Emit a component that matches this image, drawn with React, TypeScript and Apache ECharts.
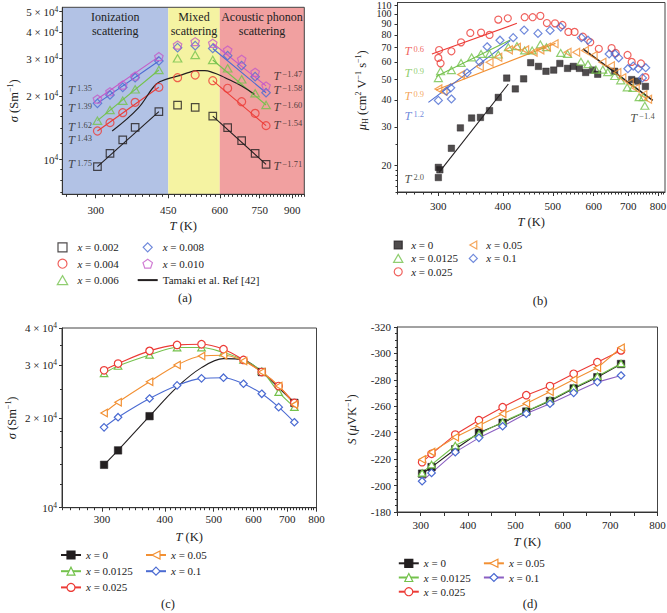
import React, { useEffect, useRef } from 'react';
import * as echarts from 'echarts';

const FONT = '"Liberation Serif", "DejaVu Serif", serif';
const INK = '#231f20';
const RED = '#ec3b36';
const GREEN = '#74c24c';
const BLUE = '#4b6bd2';
const MAGENTA = '#c45ac8';
const ORANGE = '#f29033';
const PURPLE = '#8b5fc2';
const BG_BLUE = '#b2c2e5';
const BG_YELLOW = '#f5f3a2';
const BG_RED = '#f1a0a0';

const SQUARE = 'path://M0,0L10,0L10,10L0,10Z';
const TRI_UP = 'path://M5,0L10,8.66L0,8.66Z';
const TRI_LEFT = 'path://M0,5L8.66,0L8.66,10Z';
const DIAMOND = 'path://M5,0L10,5L5,10L0,5Z';
const PENTAGON = 'path://M5,0L9.76,3.45L7.94,9.05L2.06,9.05L0.24,3.45Z';

// ---------- Panel (a): sigma vs T, log-log ----------
const aTemps = [303, 325, 349, 374, 427, 474, 523, 577, 627, 678, 731, 777];
const aSigma002 = [9270, 10720, 12390, 14210, 16860, 18110, 17660, 16070, 14160, 12300, 10720, 9510];
const aSigma004 = [13660, 14960, 16670, 18650, 21960, 24390, 25110, 23600, 21730, 18790, 16550, 14480];
const aSigma006 = [15280, 17160, 18980, 21490, 26510, 30100, 31200, 29550, 27000, 23950, 20580, 18120];
const aSigma008 = [18450, 20200, 21960, 24390, 29230, 33790, 34540, 33500, 30980, 27800, 24660, 20710];
const aSigma010 = [19340, 20940, 22520, 24840, 30650, 34780, 36070, 35450, 32950, 29800, 25850, 22290];
const aTamakiT = [329, 380, 421, 450, 476, 503, 527, 552, 578, 606, 629, 678, 728];
const aTamakiS = [13660, 17470, 22770, 24130, 24850, 25760, 26320, 26320, 25760, 24850, 23950, 22280, 20350];
const aXMin = 249;
const aXMax = 962;
const aYMin = 6865;
const aYMax = 52400;
const aXTickLabels = [300, 450, 600, 750, 900];
const aYTickLabels = [10000, 20000, 30000, 40000, 50000];
const aYMinorTicks = [7000, 8000, 9000, 12000, 14000, 16000, 18000, 25000, 35000, 45000];
const aExpLeft = ['1.35', '1.39', '1.62', '1.43', '1.75'];
const aExpLeftAt = [21340, 17540, 14270, 12390, 9540];
const aExpRight = ['\u22121.47', '\u22121.58', '\u22121.60', '\u22121.54', '\u22121.71'];
const aExpRightAt = [24840, 21340, 17740, 14580, 9340];

// ---------- Panel (b): Hall mobility ----------
const bT0 = [300, 300, 302, 318, 331, 348, 362, 377, 392, 407, 423, 439, 453, 469, 485, 502, 516, 534, 548, 563, 579, 597, 611, 659, 711, 731, 756];
const bMu0 = [17.5, 19.5, 19.0, 23.9, 29.7, 33.0, 33.2, 35.7, 41.1, 50.5, 45.0, 50.1, 59.5, 57.2, 54.3, 55.0, 59.0, 56.0, 57.2, 56.0, 53.6, 55.0, 52.6, 54.3, 49.7, 48.9, 46.2];
const bT1 = [300, 303, 318, 332, 348, 363, 377, 392, 410, 426, 441, 456, 473, 486, 518, 534, 567, 585, 606, 625, 639, 659, 677, 697, 715, 735, 749, 754];
const bMu1 = [50.5, 54.3, 55.0, 59.3, 63.0, 65.3, 65.3, 64.9, 70.2, 71.0, 67.8, 67.8, 72.3, 70.2, 66.0, 65.3, 60.1, 58.6, 55.3, 55.3, 53.8, 51.6, 49.3, 45.7, 45.5, 41.2, 41.2, 37.6];
const bT2 = [300, 301, 303, 318, 332, 346, 363, 377, 392, 409, 441, 457, 473, 487, 505, 522, 536, 551, 572, 591, 614, 650, 662, 698, 711, 741, 756];
const bMu2 = [62.6, 68.1, 59.1, 67.2, 73.9, 81.7, 82.0, 80.0, 94.2, 95.5, 96.6, 96.6, 98.0, 90.8, 90.5, 88.9, 82.6, 82.6, 78.5, 74.0, 69.0, 69.5, 66.0, 64.6, 60.0, 59.0, 51.0];
const bT3 = [300, 307, 332, 361, 377, 392, 411, 426, 442, 459, 473, 487, 504, 534, 555, 577, 600, 624, 648, 667, 682, 705, 724, 749, 765];
const bMu3 = [45.0, 43.9, 52.4, 57.1, 59.8, 63.0, 68.2, 70.2, 68.2, 66.5, 68.2, 70.2, 72.8, 66.5, 66.5, 67.8, 64.2, 59.8, 57.6, 53.6, 50.7, 48.0, 45.3, 42.3, 40.3];
const bT4 = [300, 311, 317, 318, 341, 361, 373, 395, 419, 440, 468, 494, 518, 568, 585, 643, 660, 671, 699, 716, 732, 746, 757];
const bMu4 = [39.8, 43.9, 45.5, 40.4, 53.4, 60.0, 70.5, 75.6, 77.7, 84.2, 81.3, 83.9, 87.0, 77.7, 75.6, 65.3, 65.3, 62.6, 55.8, 57.4, 55.8, 50.6, 56.4];
const bFitRedT = [291.5, 426];
const bFitRedMu = [65.3, 90.5];
const bFitGreenT = [297, 413.5];
const bFitGreenMu = [51.3, 75.8];
const bFitOrangeT = [297, 506];
const bFitOrangeMu = [44.5, 73.1];
const bFitBlueT = [287, 413.5];
const bFitBlueMu = [39.0, 75.3];
const bFitBlackLoT = [301, 410];
const bFitBlackLoMu = [18.5, 47.4];
const bFitBlackHiT = [572, 781];
const bFitBlackHiMu = [68.9, 39.8];
const bXMin = 250;
const bXMax = 825;
const bYMin = 15;
const bYMax = 113;
const bXTickLabels = [300, 400, 500, 600, 700, 800];
const bYTickLabels = [20, 30, 40, 50, 60, 70, 80, 90, 100, 110];
const bYLabelsEven = [20, 40, 60, 80, 100];
const bYLabelsOdd = [30, 50, 70, 90, 110];
const bYMinorTicks = [15, 16, 17, 18, 19, 25];

// ---------- Panel (c): sigma vs T ----------
const cT = [303, 323, 373, 423, 473, 523, 573, 623, 673, 723];
const cSigma0 = [13920, 15560, 20260, 25360, 29460, 31580, 31260, 28480, 25230, 22450];
const cSigma0125 = [28190, 29840, 32500, 34400, 34400, 33100, 31260, 28690, 24390, 21720];
const cSigma025 = [28860, 30400, 33530, 35110, 35290, 33950, 31260, 28480, 25560, 22450];
const cSigma05 = [20770, 22570, 26430, 30070, 32240, 32400, 31000, 28480, 25560, 22150];
const cSigma1 = [18590, 20100, 23220, 25690, 27120, 27260, 26020, 24080, 21720, 19330];
const cBlackMarkerShown = [true, true, true, false, false, false, false, true, false, true];
const cXTickLabels = [300, 400, 500, 600, 700, 800];
const cYTickLabels = [10000, 20000, 30000, 40000];
const cYMinorTicks = [12000, 14000, 16000, 18000, 25000, 35000];

// ---------- Panel (d): Seebeck ----------
const dT = [303, 323, 373, 423, 473, 523, 573, 623, 673, 723];
const dS0 = [-209.0, -214.0, -227.5, -240.0, -247.5, -256.0, -264.0, -273.5, -282.0, -292.0];
const dS0125 = [-209.6, -215.9, -230.3, -239.1, -248.2, -256.3, -264.6, -274.0, -282.8, -292.4];
const dS025 = [-217.7, -224.0, -238.6, -249.5, -259.3, -268.4, -275.3, -284.6, -293.4, -302.3];
const dS05 = [-219.7, -225.3, -236.6, -245.5, -254.3, -262.1, -271.0, -280.3, -289.1, -304.3];
const dS1 = [-203.3, -209.6, -225.3, -236.1, -244.9, -254.5, -261.9, -270.2, -278.3, -283.3];

const pts = (xs: number[], ys: number[]) => xs.map((x, i) => [x, ys[i]]);
const stepTicks = (from: number, to: number, step: number, skip: number[]) => {
  const out: number[] = [];
  for (let v = from; v <= to; v += step) if (!skip.includes(v)) out.push(v);
  return out;
};

const tickLine = { color: '#333', width: 1 };
const supRich = {
  i: { fontFamily: FONT, fontStyle: 'italic', fontSize: 11, lineHeight: 13, color: '#222' },
  s: { fontFamily: FONT, fontSize: 7.5, lineHeight: 8, verticalAlign: 'top', color: '#222' },
};
const labelBase = { fontFamily: FONT, fontSize: 11, color: '#222', lineHeight: 13, rich: supRich, hideOverlap: false, showMinLabel: true, showMaxLabel: true };
const nameStyle = {
  fontFamily: FONT, fontSize: 12.5, color: '#222', lineHeight: 15,
  rich: {
    i: { fontFamily: FONT, fontStyle: 'italic', fontSize: 12.5, lineHeight: 15, color: '#222' },
    s: { fontFamily: FONT, fontSize: 8, lineHeight: 8, verticalAlign: 'top', color: '#222' },
    sub: { fontFamily: FONT, fontSize: 8, lineHeight: 8, verticalAlign: 'bottom', color: '#222' },
  },
};
const sciFmt = (v: number) => {
  const k = Math.round(v / 10000);
  return k === 1 ? '10{s|4}' : k + ' \u00d7 10{s|4}';
};

function logAxis(grid: number, min: number, max: number, majors: number[], fmt: any, extra: any) {
  return {
    type: 'log', logBase: 10, gridIndex: grid, min, max, z: 5,
    axisLine: { show: true, onZero: false, lineStyle: tickLine },
    axisTick: { show: true, customValues: majors, length: 4, inside: false, lineStyle: tickLine },
    minorTick: { show: false },
    splitLine: { show: false },
    axisLabel: { show: true, customValues: majors, formatter: fmt, ...labelBase, margin: 7 },
    ...extra,
  };
}
function minorAxis(grid: number, min: number, max: number, values: number[], len: number, position: string, label: any = { show: false }) {
  return {
    type: 'log', logBase: 10, gridIndex: grid, min, max, position, z: 5,
    axisLine: { show: false },
    axisTick: { show: true, customValues: values, length: len, inside: false, lineStyle: tickLine },
    axisLabel: label,
    minorTick: { show: false },
    splitLine: { show: false },
  };
}

const hollow = (color: string) => ({ color: 'rgba(0,0,0,0)', borderColor: color, borderWidth: 1.2 });
const white = (color: string) => ({ color: '#ffffff', borderColor: color, borderWidth: 1.2 });

function scatter(name: string, axis: number, data: number[][], symbol: string, itemStyle: any, size: number, extra: any = {}) {
  return {
    type: 'scatter', name, xAxisIndex: axis, yAxisIndex: axis, symbol, symbolSize: size,
    symbolKeepAspect: true, itemStyle, data, z: 4, ...extra,
  };
}
function fitLine(name: string, axis: number, data: number[][], color: string, width = 1.1, smooth: any = false) {
  return {
    type: 'line', name, xAxisIndex: axis, yAxisIndex: axis, data, symbol: 'none', smooth,
    lineStyle: { color, width }, itemStyle: { color: 'rgba(0,0,0,0)', borderColor: 'rgba(0,0,0,0)', borderWidth: 0 },
    z: 3, silent: true,
  };
}
function dataLine(name: string, axis: number, data: any[], symbol: string, color: string, itemStyle: any, smooth: any, lineColor?: string) {
  return {
    type: 'line', name, xAxisIndex: axis, yAxisIndex: axis, data, symbol, symbolSize: 7.5, symbolKeepAspect: true,
    smooth, lineStyle: { color: lineColor || color, width: 1.1 }, itemStyle, z: 4,
  };
}
const annRich = {
  t: { fontFamily: FONT, fontStyle: 'italic', fontSize: 12.5, lineHeight: 12 },
  s: { fontFamily: FONT, fontSize: 8.5, lineHeight: 9, verticalAlign: 'top', padding: [0, 0, 0, 2] },
};
function annotations(axis: number, items: any[]) {
  return {
    type: 'scatter', name: 'annotation', xAxisIndex: axis, yAxisIndex: axis, symbolSize: 1, silent: true, z: 6,
    itemStyle: { color: 'rgba(0,0,0,0)' },
    label: {
      show: true, position: 'right', distance: 0, fontFamily: FONT, color: INK, rich: annRich, lineHeight: 12,
      formatter: (p: any) => '{t|T}{s|' + p.data.exp + '}',
    },
    labelLayout: { hideOverlap: false },
    data: items.map((it) => ({ value: [it.x, it.y], exp: it.exp, label: { color: it.color } })),
  };
}

const legendFmt = (name: string) => {
  const t = name.slice(2);
  return t.startsWith('x') ? '{i|x}' + t.slice(1) : t;
};
function legend(left: number, top: number, data: string[], itemWidth: number, itemHeight: number, gap: number) {
  return {
    orient: 'vertical', left, top, padding: 0, itemGap: gap, itemWidth, itemHeight, selectedMode: false,
    formatter: legendFmt, data,
    itemStyle: { borderWidth: 1.2 },
    textStyle: { fontFamily: FONT, fontSize: 11, color: '#222', lineHeight: 13, rich: { i: { fontFamily: FONT, fontStyle: 'italic', fontSize: 11, lineHeight: 13 } } },
  };
}

function buildOption() {
  const aXMinor = stepTicks(255, 960, 15, aXTickLabels);
  const bXMinor = stepTicks(250, 820, 10, bXTickLabels);
  const cXMinor = stepTicks(250, 800, 10, cXTickLabels);
  const grid = (left: number, top: number, width: number, height: number) => ({
    left, top, width, height, show: true, borderColor: '#444', borderWidth: 1, backgroundColor: 'rgba(0,0,0,0)',
    containLabel: false, outerBoundsMode: 'none', z: 3,
  });
  const intFmt = (v: number) => String(Math.round(v));
  const bYLabelStyle = { ...labelBase, fontSize: 10, lineHeight: 8, margin: 6, formatter: intFmt };

  const xAxis: any[] = [
    logAxis(0, aXMin, aXMax, aXTickLabels, intFmt, {
      position: 'bottom', name: '{i|T} (K)', nameLocation: 'middle', nameGap: 24, nameTextStyle: nameStyle,
      axisLabel: { show: true, customValues: aXTickLabels, formatter: intFmt, ...labelBase, margin: 9 },
    }),
    minorAxis(0, aXMin, aXMax, aXMinor, 2.5, 'bottom'),
    logAxis(1, bXMin, bXMax, bXTickLabels, intFmt, {
      position: 'bottom', name: '{i|T} (K)', nameLocation: 'middle', nameGap: 22, nameTextStyle: nameStyle,
    }),
    minorAxis(1, bXMin, bXMax, bXMinor, 2.5, 'bottom'),
    logAxis(2, 250, 800, cXTickLabels, intFmt, {
      position: 'bottom', name: '{i|T} (K)', nameLocation: 'middle', nameGap: 22, nameTextStyle: nameStyle,
      axisLabel: { show: true, customValues: cXTickLabels, formatter: intFmt, ...labelBase, margin: 5 },
    }),
    minorAxis(2, 250, 800, cXMinor, 2.5, 'bottom'),
    {
      type: 'value', gridIndex: 3, min: 250, max: 800, interval: 50, position: 'bottom', z: 5,
      axisLine: { show: true, onZero: false, lineStyle: tickLine },
      axisTick: { show: true, length: 4, lineStyle: tickLine },
      splitLine: { show: false },
      axisLabel: { ...labelBase, margin: 6, formatter: (v: number) => (v % 100 === 0 ? String(v) : '') },
      name: '{i|T} (K)', nameLocation: 'middle', nameGap: 22, nameTextStyle: nameStyle,
    },
  ];
  const yAxis: any[] = [
    logAxis(0, aYMin, aYMax, aYTickLabels, sciFmt, {
      position: 'left', name: '{i|\u03c3} (Sm{s|\u22121})', nameLocation: 'middle', nameGap: 41, nameTextStyle: nameStyle,
      axisTick: { show: true, customValues: aYTickLabels, length: 3, lineStyle: tickLine },
      axisLabel: { show: true, customValues: aYTickLabels, formatter: sciFmt, ...labelBase, margin: 4 },
    }),
    minorAxis(0, aYMin, aYMax, aYMinorTicks, 2, 'left'),
    logAxis(1, bYMin, bYMax, bYTickLabels, intFmt, {
      position: 'left', name: '{i|\u03bc}{sub|H} (cm{s|2} V{s|\u22121} s{s|\u22121})', nameLocation: 'middle', nameGap: 28,
      nameTextStyle: { ...nameStyle, padding: [0, 0, 0, 14] },
      axisTick: { show: true, customValues: bYTickLabels, length: 3, lineStyle: tickLine },
      axisLabel: { show: true, customValues: bYLabelsEven, ...bYLabelStyle },
    }),
    minorAxis(1, bYMin, bYMax, bYMinorTicks, 2, 'left', { show: true, customValues: bYLabelsOdd, ...bYLabelStyle }),
    logAxis(2, 10000, 40000, cYTickLabels, sciFmt, {
      position: 'left', name: '{i|\u03c3} (Sm{s|\u22121})', nameLocation: 'middle', nameGap: 43, nameTextStyle: nameStyle,
      axisTick: { show: true, customValues: cYTickLabels, length: 3, lineStyle: tickLine },
      axisLabel: { show: true, customValues: cYTickLabels, formatter: sciFmt, ...labelBase, margin: 5 },
    }),
    minorAxis(2, 10000, 40000, cYMinorTicks, 2, 'left'),
    {
      type: 'value', gridIndex: 3, min: -320, max: -180, interval: 20, inverse: true, position: 'left', z: 5,
      axisLine: { show: true, onZero: false, lineStyle: tickLine },
      axisTick: { show: true, length: 3, lineStyle: tickLine },
      minorTick: { show: true, splitNumber: 4, length: 2, lineStyle: tickLine },
      splitLine: { show: false },
      axisLabel: { ...labelBase, margin: 6 },
      name: '{i|S} ({i|\u03bc}VK{s|\u22121})', nameLocation: 'middle', nameGap: 38, nameTextStyle: nameStyle,
    },
  ];

  // axis index mapping: panel a -> 0, b -> 2, c -> 4, d -> 6
  const series: any[] = [];
  // ----- (a)
  series.push(scatter('a:x = 0.002', 0, pts(aTemps, aSigma002), SQUARE, hollow(INK), 7.5, {
    markArea: {
      silent: true, z: 1,
      label: { show: true, position: 'insideTop', distance: 3, fontFamily: FONT, fontSize: 12, lineHeight: 14, color: '#222' },
      data: [
        [{ name: 'Ionization\nscattering', xAxis: aXMin, itemStyle: { color: BG_BLUE, opacity: 1 } }, { xAxis: 450 }],
        [{ name: 'Mixed\nscattering', xAxis: 450, itemStyle: { color: BG_YELLOW, opacity: 1 } }, { xAxis: 600 }],
        [{ name: 'Acoustic phonon\nscattering', xAxis: 600, itemStyle: { color: BG_RED, opacity: 1 } }, { xAxis: aXMax }],
      ],
    },
  }));
  series.push(scatter('a:x = 0.004', 0, pts(aTemps, aSigma004), 'circle', hollow(RED), 8));
  series.push(scatter('a:x = 0.006', 0, pts(aTemps, aSigma006), TRI_UP, hollow(GREEN), 8.5));
  series.push(scatter('a:x = 0.008', 0, pts(aTemps, aSigma008), DIAMOND, hollow(BLUE), 8.5));
  series.push(scatter('a:x = 0.010', 0, pts(aTemps, aSigma010), PENTAGON, hollow(MAGENTA), 8.5));
  const aSets: [number[], string][] = [[aSigma002, INK], [aSigma004, RED], [aSigma006, GREEN], [aSigma008, BLUE], [aSigma010, MAGENTA]];
  aSets.forEach(([s, c], k) => {
    series.push(fitLine('a:fitL' + k, 0, [[aTemps[0], s[0]], [aTemps[4], s[4]]], c));
    series.push(fitLine('a:fitR' + k, 0, [[aTemps[7], s[7]], [aTemps[11], s[11]]], c));
  });
  series.push(fitLine('a:Tamaki et al. Ref [42]', 0, pts(aTamakiT, aTamakiS), INK, 1.2, 0.4));
  series.push(annotations(0, [
    ...aExpLeft.map((e, i) => ({ x: 256.5, y: aExpLeftAt[i], exp: e, color: INK })),
    ...aExpRight.map((e, i) => ({ x: 808, y: aExpRightAt[i], exp: e, color: INK })),
  ]));

  // ----- (b)
  series.push(scatter('b:x = 0', 2, pts(bT0, bMu0), SQUARE, { color: INK, borderColor: INK, borderWidth: 0.5 }, 6.5));
  series.push(scatter('b:x = 0.0125', 2, pts(bT1, bMu1), TRI_UP, hollow(GREEN), 8));
  series.push(scatter('b:x = 0.025', 2, pts(bT2, bMu2), 'circle', hollow(RED), 7));
  series.push(scatter('b:x = 0.05', 2, pts(bT3, bMu3), TRI_LEFT, hollow(ORANGE), 8));
  series.push(scatter('b:x = 0.1', 2, pts(bT4, bMu4), DIAMOND, hollow(BLUE), 8));
  series.push(fitLine('b:fitRed', 2, pts(bFitRedT, bFitRedMu), RED));
  series.push(fitLine('b:fitGreen', 2, pts(bFitGreenT, bFitGreenMu), GREEN));
  series.push(fitLine('b:fitOrange', 2, pts(bFitOrangeT, bFitOrangeMu), ORANGE));
  series.push(fitLine('b:fitBlue', 2, pts(bFitBlueT, bFitBlueMu), BLUE));
  series.push(fitLine('b:fitBlackLo', 2, pts(bFitBlackLoT, bFitBlackLoMu), INK));
  series.push(fitLine('b:fitBlackHi', 2, pts(bFitBlackHiT, bFitBlackHiMu), INK, 1.6));
  series.push(annotations(2, [
    { x: 257.3, y: 67.7, exp: '0.6', color: RED },
    { x: 257.3, y: 53.5, exp: '0.9', color: GREEN },
    { x: 257.3, y: 41.9, exp: '0.9', color: ORANGE },
    { x: 257.3, y: 33.8, exp: '1.2', color: BLUE },
    { x: 257.3, y: 17.3, exp: '2.0', color: INK },
    { x: 705, y: 33.1, exp: '\u22121.4', color: INK },
  ]));

  // ----- (c)
  const c0 = pts(cT, cSigma0).map((p, i) => (cBlackMarkerShown[i] ? p : { value: p, symbol: 'none' }));
  series.push(dataLine('c:x = 0', 4, c0, SQUARE, INK, { color: INK, borderColor: INK, borderWidth: 0.5 }, 0.35));
  series.push(dataLine('c:x = 0.0125', 4, pts(cT, cSigma0125), TRI_UP, GREEN, white(GREEN), 0.35));
  series.push(dataLine('c:x = 0.025', 4, pts(cT, cSigma025), 'circle', RED, white(RED), 0.35));
  series.push(dataLine('c:x = 0.05', 4, pts(cT, cSigma05), TRI_LEFT, ORANGE, white(ORANGE), 0.35));
  series.push(dataLine('c:x = 0.1', 4, pts(cT, cSigma1), DIAMOND, BLUE, white(BLUE), 0.35));

  // ----- (d)
  series.push(dataLine('d:x = 0', 6, pts(dT, dS0), SQUARE, INK, { color: INK, borderColor: INK, borderWidth: 0.5 }, false));
  series.push(dataLine('d:x = 0.0125', 6, pts(dT, dS0125), TRI_UP, GREEN, white(GREEN), false));
  series.push(dataLine('d:x = 0.025', 6, pts(dT, dS025), 'circle', RED, white(RED), false));
  series.push(dataLine('d:x = 0.05', 6, pts(dT, dS05), TRI_LEFT, ORANGE, white(ORANGE), false));
  series.push(dataLine('d:x = 0.1', 6, pts(dT, dS1), DIAMOND, BLUE, white(BLUE), false, PURPLE));

  const caption = (text: string, x: number, y: number) => ({
    type: 'text', x, y, silent: true,
    style: { text, fontFamily: FONT, fontSize: 12.5, fill: '#222', align: 'center', verticalAlign: 'middle' },
  });

  return {
    animation: false,
    backgroundColor: '#ffffff',
    grid: [
      grid(62.3, 7.3, 242, 187),
      grid(397.5, 2.5, 267.5, 189.5),
      grid(62, 328, 254.5, 179.7),
      grid(397, 327, 260.5, 185),
    ],
    xAxis,
    yAxis,
    legend: [
      legend(56.7, 240.8, ['a:x = 0.002', 'a:x = 0.004', 'a:x = 0.006'], 20, 9, 3.4),
      legend(136.7, 240.8, ['a:x = 0.008', 'a:x = 0.010', 'a:Tamaki et al. Ref [42]'], 20, 9, 3.4),
      legend(393, 238.5, ['b:x = 0', 'b:x = 0.0125', 'b:x = 0.025'], 16, 8, 0.4),
      legend(468.7, 238.5, ['b:x = 0.05', 'b:x = 0.1'], 16, 8, 0.4),
      legend(60, 548.5, ['c:x = 0', 'c:x = 0.0125', 'c:x = 0.025'], 20, 10, 3.2),
      legend(145, 548.5, ['c:x = 0.05', 'c:x = 0.1'], 20, 10, 3.2),
      legend(397.8, 556.8, ['d:x = 0', 'd:x = 0.0125', 'd:x = 0.025'], 20, 10, 1.2),
      legend(482.9, 556.8, ['d:x = 0.05', 'd:x = 0.1'], 20, 10, 1.2),
    ],
    series,
    graphic: [
      caption('(a)', 185, 298),
      caption('(b)', 540, 301),
      caption('(c)', 168, 604),
      caption('(d)', 530, 604),
    ],
  };
}

export default function App() {
  const ref = useRef<HTMLDivElement>(null);
  useEffect(() => {
    if (!ref.current) return;
    const chart = echarts.init(ref.current, null, { renderer: 'svg' });
    chart.setOption(buildOption() as any);
    return () => chart.dispose();
  }, []);
  return <div ref={ref} style={{ position: 'absolute', left: 0, top: 0, width: 667, height: 613 }} />;
}
